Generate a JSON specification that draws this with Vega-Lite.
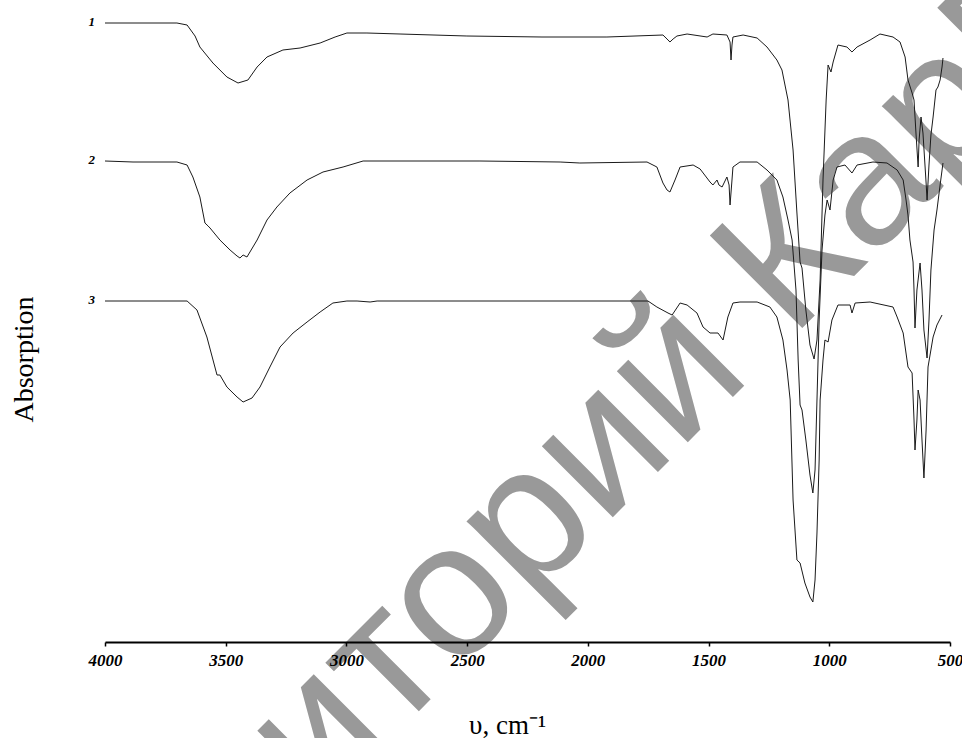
{
  "$schema": "https://vega.github.io/schema/vega-lite/v6.json",
  "width": 845,
  "height": 642,
  "autosize": {"type": "none"},
  "padding": {"left": 105, "top": 0, "right": 12, "bottom": 96},
  "background": "white",
  "config": {"view": {"stroke": null}, "font": "Liberation Serif"},
  "datasets": {
    "spectra": [
      {"spectrum": "1", "wn": 4000, "A": 6.19}, {"spectrum": "1", "wn": 3702, "A": 6.19}, {"spectrum": "1", "wn": 3660, "A": 6.17}, {"spectrum": "1", "wn": 3627, "A": 6.06}, {"spectrum": "1", "wn": 3607, "A": 5.95}, {"spectrum": "1", "wn": 3553, "A": 5.79}, {"spectrum": "1", "wn": 3495, "A": 5.65}, {"spectrum": "1", "wn": 3449, "A": 5.59}, {"spectrum": "1", "wn": 3408, "A": 5.62}, {"spectrum": "1", "wn": 3370, "A": 5.75}, {"spectrum": "1", "wn": 3329, "A": 5.85}, {"spectrum": "1", "wn": 3263, "A": 5.92}, {"spectrum": "1", "wn": 3192, "A": 5.94}, {"spectrum": "1", "wn": 3109, "A": 5.99}, {"spectrum": "1", "wn": 3047, "A": 6.05}, {"spectrum": "1", "wn": 2998, "A": 6.09}, {"spectrum": "1", "wn": 2915, "A": 6.09}, {"spectrum": "1", "wn": 2778, "A": 6.08}, {"spectrum": "1", "wn": 2501, "A": 6.06}, {"spectrum": "1", "wn": 2190, "A": 6.05}, {"spectrum": "1", "wn": 1921, "A": 6.05}, {"spectrum": "1", "wn": 1689, "A": 6.07}, {"spectrum": "1", "wn": 1672, "A": 6.03}, {"spectrum": "1", "wn": 1660, "A": 6.0}, {"spectrum": "1", "wn": 1647, "A": 6.03}, {"spectrum": "1", "wn": 1631, "A": 6.06}, {"spectrum": "1", "wn": 1589, "A": 6.08}, {"spectrum": "1", "wn": 1506, "A": 6.05}, {"spectrum": "1", "wn": 1482, "A": 6.08}, {"spectrum": "1", "wn": 1424, "A": 6.07}, {"spectrum": "1", "wn": 1411, "A": 6.0}, {"spectrum": "1", "wn": 1407, "A": 5.82}, {"spectrum": "1", "wn": 1403, "A": 5.97}, {"spectrum": "1", "wn": 1399, "A": 6.05}, {"spectrum": "1", "wn": 1357, "A": 6.07}, {"spectrum": "1", "wn": 1299, "A": 6.04}, {"spectrum": "1", "wn": 1258, "A": 5.95}, {"spectrum": "1", "wn": 1217, "A": 5.82}, {"spectrum": "1", "wn": 1196, "A": 5.72}, {"spectrum": "1", "wn": 1171, "A": 5.42}, {"spectrum": "1", "wn": 1150, "A": 4.92}, {"spectrum": "1", "wn": 1134, "A": 4.29}, {"spectrum": "1", "wn": 1121, "A": 3.8}, {"spectrum": "1", "wn": 1113, "A": 3.74}, {"spectrum": "1", "wn": 1097, "A": 3.32}, {"spectrum": "1", "wn": 1080, "A": 2.97}, {"spectrum": "1", "wn": 1063, "A": 2.83}, {"spectrum": "1", "wn": 1051, "A": 3.02}, {"spectrum": "1", "wn": 1038, "A": 3.62}, {"spectrum": "1", "wn": 1026, "A": 4.62}, {"spectrum": "1", "wn": 1013, "A": 5.42}, {"spectrum": "1", "wn": 1005, "A": 5.77}, {"spectrum": "1", "wn": 993, "A": 5.7}, {"spectrum": "1", "wn": 984, "A": 5.8}, {"spectrum": "1", "wn": 964, "A": 5.97}, {"spectrum": "1", "wn": 927, "A": 5.95}, {"spectrum": "1", "wn": 906, "A": 5.9}, {"spectrum": "1", "wn": 885, "A": 5.95}, {"spectrum": "1", "wn": 831, "A": 6.02}, {"spectrum": "1", "wn": 790, "A": 6.08}, {"spectrum": "1", "wn": 736, "A": 6.05}, {"spectrum": "1", "wn": 707, "A": 6.0}, {"spectrum": "1", "wn": 686, "A": 5.85}, {"spectrum": "1", "wn": 674, "A": 5.62}, {"spectrum": "1", "wn": 657, "A": 5.49}, {"spectrum": "1", "wn": 649, "A": 5.42}, {"spectrum": "1", "wn": 641, "A": 5.09}, {"spectrum": "1", "wn": 632, "A": 4.75}, {"spectrum": "1", "wn": 628, "A": 5.02}, {"spectrum": "1", "wn": 620, "A": 5.25}, {"spectrum": "1", "wn": 612, "A": 5.09}, {"spectrum": "1", "wn": 599, "A": 4.59}, {"spectrum": "1", "wn": 595, "A": 4.42}, {"spectrum": "1", "wn": 587, "A": 4.77}, {"spectrum": "1", "wn": 579, "A": 5.07}, {"spectrum": "1", "wn": 570, "A": 5.25}, {"spectrum": "1", "wn": 558, "A": 5.52}, {"spectrum": "1", "wn": 550, "A": 5.55}, {"spectrum": "1", "wn": 541, "A": 5.62}, {"spectrum": "1", "wn": 533, "A": 5.75}, {"spectrum": "1", "wn": 529, "A": 5.84},

      {"spectrum": "2", "wn": 4000, "A": 4.81}, {"spectrum": "2", "wn": 3884, "A": 4.8}, {"spectrum": "2", "wn": 3702, "A": 4.8}, {"spectrum": "2", "wn": 3660, "A": 4.77}, {"spectrum": "2", "wn": 3636, "A": 4.65}, {"spectrum": "2", "wn": 3607, "A": 4.45}, {"spectrum": "2", "wn": 3586, "A": 4.19}, {"spectrum": "2", "wn": 3573, "A": 4.16}, {"spectrum": "2", "wn": 3565, "A": 4.14}, {"spectrum": "2", "wn": 3524, "A": 4.02}, {"spectrum": "2", "wn": 3482, "A": 3.92}, {"spectrum": "2", "wn": 3453, "A": 3.86}, {"spectrum": "2", "wn": 3441, "A": 3.84}, {"spectrum": "2", "wn": 3428, "A": 3.87}, {"spectrum": "2", "wn": 3412, "A": 3.85}, {"spectrum": "2", "wn": 3370, "A": 4.02}, {"spectrum": "2", "wn": 3329, "A": 4.22}, {"spectrum": "2", "wn": 3288, "A": 4.35}, {"spectrum": "2", "wn": 3234, "A": 4.49}, {"spectrum": "2", "wn": 3163, "A": 4.62}, {"spectrum": "2", "wn": 3097, "A": 4.7}, {"spectrum": "2", "wn": 3014, "A": 4.75}, {"spectrum": "2", "wn": 2931, "A": 4.81}, {"spectrum": "2", "wn": 2447, "A": 4.81}, {"spectrum": "2", "wn": 2115, "A": 4.8}, {"spectrum": "2", "wn": 2033, "A": 4.79}, {"spectrum": "2", "wn": 1755, "A": 4.8}, {"spectrum": "2", "wn": 1714, "A": 4.75}, {"spectrum": "2", "wn": 1689, "A": 4.59}, {"spectrum": "2", "wn": 1672, "A": 4.52}, {"spectrum": "2", "wn": 1660, "A": 4.5}, {"spectrum": "2", "wn": 1639, "A": 4.62}, {"spectrum": "2", "wn": 1618, "A": 4.75}, {"spectrum": "2", "wn": 1564, "A": 4.77}, {"spectrum": "2", "wn": 1535, "A": 4.73}, {"spectrum": "2", "wn": 1494, "A": 4.6}, {"spectrum": "2", "wn": 1482, "A": 4.57}, {"spectrum": "2", "wn": 1465, "A": 4.62}, {"spectrum": "2", "wn": 1457, "A": 4.57}, {"spectrum": "2", "wn": 1444, "A": 4.55}, {"spectrum": "2", "wn": 1424, "A": 4.65}, {"spectrum": "2", "wn": 1415, "A": 4.57}, {"spectrum": "2", "wn": 1411, "A": 4.37}, {"spectrum": "2", "wn": 1403, "A": 4.62}, {"spectrum": "2", "wn": 1399, "A": 4.75}, {"spectrum": "2", "wn": 1370, "A": 4.8}, {"spectrum": "2", "wn": 1299, "A": 4.8}, {"spectrum": "2", "wn": 1258, "A": 4.72}, {"spectrum": "2", "wn": 1217, "A": 4.62}, {"spectrum": "2", "wn": 1192, "A": 4.45}, {"spectrum": "2", "wn": 1171, "A": 4.22}, {"spectrum": "2", "wn": 1154, "A": 4.02}, {"spectrum": "2", "wn": 1138, "A": 3.52}, {"spectrum": "2", "wn": 1129, "A": 2.82}, {"spectrum": "2", "wn": 1121, "A": 2.37}, {"spectrum": "2", "wn": 1113, "A": 2.32}, {"spectrum": "2", "wn": 1097, "A": 2.02}, {"spectrum": "2", "wn": 1080, "A": 1.67}, {"spectrum": "2", "wn": 1068, "A": 1.49}, {"spectrum": "2", "wn": 1059, "A": 1.72}, {"spectrum": "2", "wn": 1051, "A": 2.42}, {"spectrum": "2", "wn": 1042, "A": 3.22}, {"spectrum": "2", "wn": 1030, "A": 3.92}, {"spectrum": "2", "wn": 1018, "A": 4.27}, {"spectrum": "2", "wn": 1009, "A": 4.42}, {"spectrum": "2", "wn": 997, "A": 4.32}, {"spectrum": "2", "wn": 984, "A": 4.62}, {"spectrum": "2", "wn": 968, "A": 4.75}, {"spectrum": "2", "wn": 935, "A": 4.77}, {"spectrum": "2", "wn": 906, "A": 4.69}, {"spectrum": "2", "wn": 885, "A": 4.77}, {"spectrum": "2", "wn": 819, "A": 4.8}, {"spectrum": "2", "wn": 761, "A": 4.79}, {"spectrum": "2", "wn": 719, "A": 4.72}, {"spectrum": "2", "wn": 694, "A": 4.62}, {"spectrum": "2", "wn": 682, "A": 4.42}, {"spectrum": "2", "wn": 674, "A": 4.27}, {"spectrum": "2", "wn": 666, "A": 4.02}, {"spectrum": "2", "wn": 653, "A": 3.8}, {"spectrum": "2", "wn": 649, "A": 3.52}, {"spectrum": "2", "wn": 645, "A": 3.14}, {"spectrum": "2", "wn": 637, "A": 3.52}, {"spectrum": "2", "wn": 624, "A": 3.79}, {"spectrum": "2", "wn": 616, "A": 3.52}, {"spectrum": "2", "wn": 608, "A": 3.12}, {"spectrum": "2", "wn": 595, "A": 2.84}, {"spectrum": "2", "wn": 587, "A": 3.22}, {"spectrum": "2", "wn": 579, "A": 3.72}, {"spectrum": "2", "wn": 566, "A": 4.12}, {"spectrum": "2", "wn": 554, "A": 4.32}, {"spectrum": "2", "wn": 541, "A": 4.57}, {"spectrum": "2", "wn": 529, "A": 4.79},

      {"spectrum": "3", "wn": 4000, "A": 3.41}, {"spectrum": "3", "wn": 3660, "A": 3.41}, {"spectrum": "3", "wn": 3619, "A": 3.32}, {"spectrum": "3", "wn": 3578, "A": 3.05}, {"spectrum": "3", "wn": 3536, "A": 2.67}, {"spectrum": "3", "wn": 3524, "A": 2.67}, {"spectrum": "3", "wn": 3495, "A": 2.55}, {"spectrum": "3", "wn": 3453, "A": 2.45}, {"spectrum": "3", "wn": 3428, "A": 2.4}, {"spectrum": "3", "wn": 3391, "A": 2.44}, {"spectrum": "3", "wn": 3358, "A": 2.55}, {"spectrum": "3", "wn": 3317, "A": 2.75}, {"spectrum": "3", "wn": 3275, "A": 2.95}, {"spectrum": "3", "wn": 3221, "A": 3.09}, {"spectrum": "3", "wn": 3163, "A": 3.2}, {"spectrum": "3", "wn": 3109, "A": 3.3}, {"spectrum": "3", "wn": 3056, "A": 3.39}, {"spectrum": "3", "wn": 2998, "A": 3.41}, {"spectrum": "3", "wn": 2956, "A": 3.41}, {"spectrum": "3", "wn": 2902, "A": 3.4}, {"spectrum": "3", "wn": 2873, "A": 3.41}, {"spectrum": "3", "wn": 1751, "A": 3.41}, {"spectrum": "3", "wn": 1714, "A": 3.35}, {"spectrum": "3", "wn": 1668, "A": 3.29}, {"spectrum": "3", "wn": 1651, "A": 3.27}, {"spectrum": "3", "wn": 1618, "A": 3.39}, {"spectrum": "3", "wn": 1589, "A": 3.37}, {"spectrum": "3", "wn": 1548, "A": 3.29}, {"spectrum": "3", "wn": 1523, "A": 3.15}, {"spectrum": "3", "wn": 1494, "A": 3.09}, {"spectrum": "3", "wn": 1461, "A": 3.09}, {"spectrum": "3", "wn": 1440, "A": 3.02}, {"spectrum": "3", "wn": 1420, "A": 3.25}, {"spectrum": "3", "wn": 1399, "A": 3.39}, {"spectrum": "3", "wn": 1370, "A": 3.4}, {"spectrum": "3", "wn": 1299, "A": 3.4}, {"spectrum": "3", "wn": 1246, "A": 3.35}, {"spectrum": "3", "wn": 1217, "A": 3.25}, {"spectrum": "3", "wn": 1192, "A": 3.02}, {"spectrum": "3", "wn": 1175, "A": 2.72}, {"spectrum": "3", "wn": 1162, "A": 2.42}, {"spectrum": "3", "wn": 1150, "A": 1.42}, {"spectrum": "3", "wn": 1134, "A": 0.82}, {"spectrum": "3", "wn": 1121, "A": 0.79}, {"spectrum": "3", "wn": 1101, "A": 0.59}, {"spectrum": "3", "wn": 1080, "A": 0.45}, {"spectrum": "3", "wn": 1068, "A": 0.4}, {"spectrum": "3", "wn": 1059, "A": 0.62}, {"spectrum": "3", "wn": 1051, "A": 1.09}, {"spectrum": "3", "wn": 1042, "A": 1.82}, {"spectrum": "3", "wn": 1038, "A": 2.42}, {"spectrum": "3", "wn": 1026, "A": 2.82}, {"spectrum": "3", "wn": 1018, "A": 3.02}, {"spectrum": "3", "wn": 1005, "A": 3.0}, {"spectrum": "3", "wn": 989, "A": 3.22}, {"spectrum": "3", "wn": 964, "A": 3.37}, {"spectrum": "3", "wn": 914, "A": 3.37}, {"spectrum": "3", "wn": 906, "A": 3.29}, {"spectrum": "3", "wn": 893, "A": 3.39}, {"spectrum": "3", "wn": 831, "A": 3.4}, {"spectrum": "3", "wn": 736, "A": 3.35}, {"spectrum": "3", "wn": 719, "A": 3.25}, {"spectrum": "3", "wn": 694, "A": 3.09}, {"spectrum": "3", "wn": 674, "A": 2.75}, {"spectrum": "3", "wn": 657, "A": 2.69}, {"spectrum": "3", "wn": 649, "A": 2.22}, {"spectrum": "3", "wn": 645, "A": 1.92}, {"spectrum": "3", "wn": 637, "A": 2.22}, {"spectrum": "3", "wn": 632, "A": 2.52}, {"spectrum": "3", "wn": 624, "A": 2.42}, {"spectrum": "3", "wn": 616, "A": 2.02}, {"spectrum": "3", "wn": 608, "A": 1.64}, {"spectrum": "3", "wn": 599, "A": 2.12}, {"spectrum": "3", "wn": 591, "A": 2.75}, {"spectrum": "3", "wn": 570, "A": 3.05}, {"spectrum": "3", "wn": 554, "A": 3.17}, {"spectrum": "3", "wn": 533, "A": 3.27}
    ]
  },
  "encoding": {
    "x": {
      "field": "wn", "type": "quantitative",
      "scale": {"domain": [500, 4000], "reverse": true, "nice": false, "zero": false},
      "axis": {
        "values": [4000, 3500, 3000, 2500, 2000, 1500, 1000, 500],
        "format": "d", "zindex": 1,
        "grid": false, "labelFlush": false, "labelOverlap": false, "labelBound": false,
        "domainColor": "#000000", "domainWidth": 2,
        "tickColor": "#000000", "tickSize": 4, "tickWidth": 1.5,
        "labelFont": "Liberation Serif", "labelFontSize": 17, "labelFontWeight": "bold", "labelFontStyle": "italic", "labelColor": "#000000", "labelPadding": 6,
        "title": "υ, cm⁻¹", "titleFont": "Liberation Serif", "titleFontSize": 27, "titleFontWeight": "normal", "titleColor": "#000000",
        "titleX": 402, "titleY": 91, "titleAlign": "center", "titleBaseline": "alphabetic"
      }
    },
    "y": {
      "field": "A", "type": "quantitative",
      "scale": {"domain": [0, 6.42], "nice": false, "zero": false},
      "axis": {
        "title": "Absorption", "labels": false, "ticks": false, "domain": false, "grid": false,
        "titleFont": "Liberation Serif", "titleFontSize": 28, "titleFontWeight": "normal", "titleColor": "#000000",
        "titleAngle": -90, "titleX": -73, "titleY": 359, "titleAlign": "center", "titleBaseline": "alphabetic"
      }
    }
  },
  "layer": [
    {
      "data": {"values": [{"wm": "КарГУ", "wn": 1158, "A": 3.03}]},
      "mark": {"type": "text", "angle": -45, "fontSize": 190, "font": "Liberation Sans", "color": "#999999", "align": "left", "baseline": "alphabetic"},
      "encoding": {
        "text": {"field": "wm", "type": "nominal"}
      }
    },
    {
      "data": {"values": [{"wm": "Репозиторий", "wn": 1158, "A": 3.03}]},
      "mark": {"type": "text", "angle": -45, "fontSize": 190, "font": "Liberation Sans", "color": "#999999", "align": "right", "baseline": "alphabetic", "dx": -53},
      "encoding": {
        "text": {"field": "wm", "type": "nominal"}
      }
    },
    {
      "data": {"name": "spectra"},
      "mark": {"type": "line", "color": "#1a1a1a", "strokeWidth": 1, "interpolate": "linear"},
      "encoding": {
        "detail": {"field": "spectrum", "type": "nominal"}
      }
    },
    {
      "data": {"name": "spectra"},
      "transform": [{"filter": "datum.wn == 4000"}],
      "mark": {"type": "text", "align": "right", "baseline": "middle", "dx": -10, "dy": -1, "font": "Liberation Serif", "fontSize": 13, "fontWeight": "bold", "fontStyle": "italic", "color": "#000000"},
      "encoding": {
        "text": {"field": "spectrum", "type": "nominal"}
      }
    }
  ]
}
